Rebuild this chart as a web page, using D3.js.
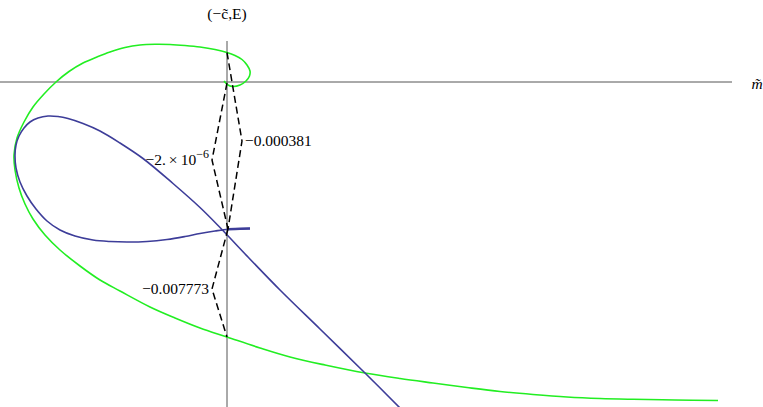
<!DOCTYPE html>
<html><head><meta charset="utf-8">
<script src="https://cdn.jsdelivr.net/npm/d3@7"></script>
<style>html,body{margin:0;padding:0;background:#fff;}svg{display:block;}</style>
</head><body>
<script>
// Green curve (m̃, E) samples
const greenX = [-0.03,0.01,0.06,0.13,0.19,0.225,0.23,0.20,0.15,0.08,0.00,-0.12,-0.27,-0.42,-0.57,-0.72,-0.87,-1.02,-1.17,-1.30,-1.44,-1.58,-1.71,-1.83,-1.94,-2.03,-2.10,-2.13,-2.12,-2.08,-2.02,-1.94,-1.82,-1.67,-1.47,-1.27,-1.07,-0.77,-0.52,-0.27,0.00,0.33,0.63,0.98,1.38,1.73,2.06,2.40,2.73,3.06,3.40,3.73,4.06,4.48,4.91];
const greenY = [0.01,-0.03,-0.045,-0.03,0.01,0.06,0.11,0.17,0.225,0.265,0.295,0.325,0.35,0.365,0.375,0.377,0.37,0.345,0.30,0.25,0.19,0.105,0.00,-0.12,-0.25,-0.40,-0.56,-0.73,-0.88,-1.06,-1.22,-1.37,-1.53,-1.68,-1.84,-1.98,-2.09,-2.25,-2.36,-2.46,-2.55,-2.66,-2.75,-2.83,-2.91,-2.965,-3.01,-3.055,-3.095,-3.125,-3.15,-3.165,-3.173,-3.18,-3.185];
// Blue curve samples
const blueX = [0.23,0.13,0.01,-0.12,-0.27,-0.42,-0.60,-0.80,-1.00,-1.17,-1.34,-1.52,-1.67,-1.80,-1.91,-2.00,-2.07,-2.11,-2.12,-2.11,-2.08,-2.03,-1.97,-1.89,-1.79,-1.69,-1.59,-1.44,-1.27,-1.07,-0.84,-0.54,-0.27,-0.07,0.21,0.53,0.93,1.38,1.73];
const blueY = [-1.465,-1.467,-1.472,-1.49,-1.515,-1.545,-1.575,-1.595,-1.60,-1.595,-1.58,-1.54,-1.48,-1.39,-1.27,-1.14,-1.00,-0.86,-0.73,-0.63,-0.54,-0.46,-0.40,-0.36,-0.34,-0.345,-0.365,-0.415,-0.49,-0.61,-0.765,-1.015,-1.255,-1.455,-1.75,-2.08,-2.47,-2.91,-3.26];
// Dashed callout lines: start, vertex, end
const calloutX = [[0.00,0.15,0.01],[0.00,-0.15,0.01],[0.01,-0.15,0.00]];
const calloutY = [[0.295,-0.59,-1.47],[-0.01,-0.78,-1.47],[-1.47,-2.07,-2.55]];
const calloutLabels = ["\u22120.000381","\u22122.\u2009\u00d7\u200910","\u22120.007773"];
const calloutSide = ["right","left","left"];
const axisLabelX = "m\u0303";
const axisLabelY = "(\u2212c\u0303,E)";

const W = 763, H = 407;
const x = d3.scaleLinear().domain([-2.27, 5.36]).range([0, W]);
const y = d3.scaleLinear().domain([0.82, -3.25]).range([0, H]);

const svg = d3.select("body").append("svg").attr("width", W).attr("height", H);
const FONT = "'Liberation Serif','Times New Roman',serif";

// axes
svg.append("line").attr("x1", x(-2.27)).attr("x2", x(5.05)).attr("y1", y(0)).attr("y2", y(0))
  .attr("stroke", "#555").attr("stroke-width", 1);
svg.append("line").attr("x1", x(0)).attr("x2", x(0)).attr("y1", y(0.41)).attr("y2", y(-3.25))
  .attr("stroke", "#555").attr("stroke-width", 1);

const line = d3.line().x(d => x(d[0])).y(d => y(d[1])).curve(d3.curveCatmullRom.alpha(0.5));

const green = greenX.map((v, i) => [v, greenY[i]]);
const blue = blueX.map((v, i) => [v, blueY[i]]);

svg.append("path").attr("d", line(green)).attr("fill", "none")
  .attr("stroke", "#22ee22").attr("stroke-width", 1.6);
svg.append("path").attr("d", line(blue)).attr("fill", "none")
  .attr("stroke", "#3d3d99").attr("stroke-width", 1.6);
// thicker tail of the blue curve
svg.append("path").attr("d", line(blue.slice(0, 3))).attr("fill", "none")
  .attr("stroke", "#3d3d99").attr("stroke-width", 2.6);

const dl = d3.line().x(d => x(d[0])).y(d => y(d[1]));
calloutX.forEach((xs, i) => {
  const pts = xs.map((v, j) => [v, calloutY[i][j]]);
  svg.append("path").attr("d", dl(pts)).attr("fill", "none")
    .attr("stroke", "#000").attr("stroke-width", 1.5).attr("stroke-dasharray", "7,4");
  const vx = x(xs[1]), vy = y(calloutY[i][1]);
  const t = svg.append("text")
    .attr("font-family", FONT)
    .attr("font-size", 15.5).attr("fill", "#000")
    .attr("y", vy + 5);
  if (calloutSide[i] === "right") {
    t.attr("x", vx + 3).attr("text-anchor", "start").text(calloutLabels[i]);
  } else {
    t.attr("x", vx - 3).attr("text-anchor", "end");
    t.append("tspan").text(calloutLabels[i]);
    if (i === 1) t.append("tspan").attr("dy", -7).attr("font-size", 12).text("\u22126");
  }
});

svg.append("text").attr("x", x(0)).attr("y", 19).attr("text-anchor", "middle")
  .attr("font-family", FONT).attr("font-size", 15.5)
  .text(axisLabelY);
svg.append("text").attr("x", 757).attr("y", 89).attr("text-anchor", "middle")
  .attr("font-family", FONT).attr("font-style", "italic")
  .attr("font-size", 15.5).text(axisLabelX);
</script>
</body></html>
